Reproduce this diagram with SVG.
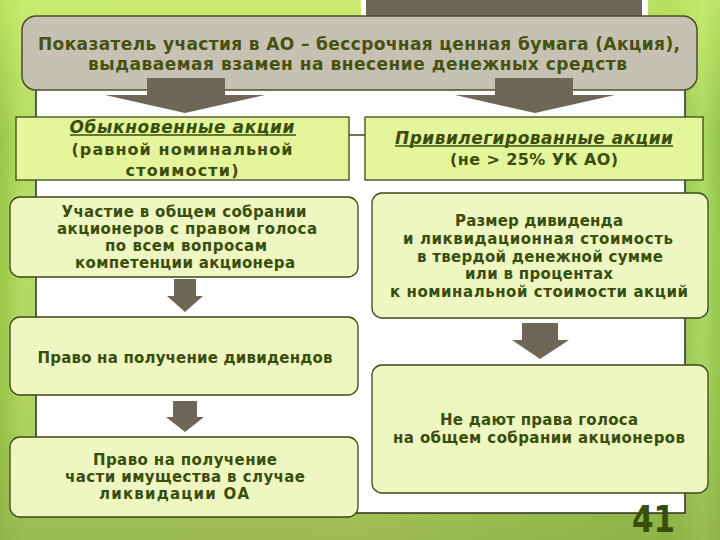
<svg xmlns="http://www.w3.org/2000/svg" width="720" height="540" viewBox="0 0 720 540">
<defs>
<linearGradient id="bgH" x1="0" y1="0" x2="1" y2="0">
<stop offset="0" stop-color="#96c748"/>
<stop offset="0.03" stop-color="#b4dc64"/>
<stop offset="0.5" stop-color="#bddc68"/>
<stop offset="0.935" stop-color="#8cc442"/>
<stop offset="0.975" stop-color="#acd966"/>
<stop offset="1" stop-color="#92c64a"/>
</linearGradient>
<linearGradient id="bgV" x1="0" y1="0" x2="0" y2="1">
<stop offset="0" stop-color="#d6f474" stop-opacity="0.6"/>
<stop offset="0.25" stop-color="#d6f474" stop-opacity="0"/>
<stop offset="0.8" stop-color="#8ea848" stop-opacity="0.2"/>
<stop offset="1" stop-color="#8ea848" stop-opacity="0.65"/>
</linearGradient>
<style>
.t{font-family:"DejaVu Sans","Liberation Sans",sans-serif;font-weight:bold;fill:#3a4e0c;text-anchor:middle}
.title{font-size:17px;fill:#46520f}
.b{font-size:15px}
.bb{font-size:16px}
.it{font-style:italic;font-size:17px}
.rect{fill:#e5f59b;stroke:#3c4a14;stroke-width:1.3}
.rbox{fill:#eef7c2;stroke:#3c4a14;stroke-width:1.3}
.arrow{fill:#6e6656}
.ul{stroke:#3a4e0c;stroke-width:1.5}
</style>
</defs>
<g id="background">
<rect x="0" y="0" width="720" height="540" fill="url(#bgH)"/>
<rect x="0" y="0" width="720" height="540" fill="url(#bgV)"/>
<rect x="361" y="-2" width="287" height="20" fill="#ffffff"/>
<rect x="366" y="-2" width="276" height="20" fill="#6e6658"/>
<rect x="36" y="88" width="649" height="425" fill="#ffffff" stroke="#2e2e22" stroke-width="1.5"/>
</g>
<g id="title">
<rect x="22" y="16" width="675" height="74" rx="14" fill="#c5c1b3" stroke="#4d4d26" stroke-width="1.5"/>
<text class="t title" x="359" y="50" textLength="642" lengthAdjust="spacing">Показатель участия в АО – бессрочная ценная бумага (Акция),</text>
<text class="t title" x="357.5" y="70" textLength="539" lengthAdjust="spacing">выдаваемая взамен на внесение денежных средств</text>
</g>
<g id="connectors">
<polygon class="arrow" points="147,78 225,78 225,95 265,95 185,113 105,95 147,95"/>
<polygon class="arrow" points="495,78 573,78 573,95 615,95 535,113 455,95 495,95"/>
<polygon class="arrow" points="174,279 196,279 196,296 203,296 185,312 167,296 174,296"/>
<polygon class="arrow" points="173,401 197,401 197,417 204,417 185,432 166,417 173,417"/>
<polygon class="arrow" points="522,323 558,323 558,340 569,340 540,359 512,340 522,340"/>
<line class="ul" x1="295" y1="135" x2="366" y2="135"/>
</g>
<g id="ordinary">
<rect class="rect" x="16" y="117" width="333" height="63"/>
<text class="t it" x="182" y="133" textLength="225" lengthAdjust="spacing">Обыкновенные акции</text>
<line class="ul" x1="70" y1="135" x2="296" y2="135"/>
<text class="t bb" x="182" y="155" textLength="221" lengthAdjust="spacing">(равной номинальной</text>
<text class="t bb" x="182" y="176" textLength="113" lengthAdjust="spacing">стоимости)</text>
</g>
<g id="preferred">
<rect class="rect" x="365" y="117" width="338" height="63"/>
<text class="t it" x="534" y="144" textLength="278" lengthAdjust="spacing">Привилегированные акции</text>
<line class="ul" x1="395" y1="146" x2="673" y2="146"/>
<text class="t bb" x="534" y="165" textLength="168" lengthAdjust="spacing">(не &gt; 25% УК АО)</text>
</g>
<g id="vote">
<rect class="rbox" x="10" y="197" width="348" height="80" rx="10"/>
<text class="t b" x="184" y="217" textLength="245" lengthAdjust="spacing">Участие в общем собрании</text>
<text class="t b" x="187" y="234" textLength="260" lengthAdjust="spacing">акционеров с правом голоса</text>
<text class="t b" x="186" y="251" textLength="162" lengthAdjust="spacing">по всем вопросам</text>
<text class="t b" x="185" y="268" textLength="220" lengthAdjust="spacing">компетенции акционера</text>
</g>
<g id="dividend-size">
<rect class="rbox" x="372" y="193" width="336" height="125" rx="10"/>
<text class="t b" x="539" y="226" textLength="168" lengthAdjust="spacing">Размер дивиденда</text>
<text class="t b" x="538" y="244" textLength="270" lengthAdjust="spacing">и ликвидационная стоимость</text>
<text class="t b" x="540" y="262" textLength="246" lengthAdjust="spacing">в твердой денежной сумме</text>
<text class="t b" x="539" y="279" textLength="148" lengthAdjust="spacing">или в процентах</text>
<text class="t b" x="539" y="297" textLength="298" lengthAdjust="spacing">к номинальной стоимости акций</text>
</g>
<g id="dividends">
<rect class="rbox" x="10" y="317" width="348" height="78" rx="10"/>
<text class="t b" x="185" y="363" textLength="295" lengthAdjust="spacing">Право на получение дивидендов</text>
</g>
<g id="no-vote">
<rect class="rbox" x="372" y="365" width="336" height="128" rx="10"/>
<text class="t b" x="539" y="425" textLength="198" lengthAdjust="spacing">Не дают права голоса</text>
<text class="t b" x="539" y="443" textLength="292" lengthAdjust="spacing">на общем собрании акционеров</text>
</g>
<g id="liquidation">
<rect class="rbox" x="10" y="437" width="348" height="80" rx="10"/>
<text class="t b" x="185" y="465" textLength="184" lengthAdjust="spacing">Право на получение</text>
<text class="t b" x="185" y="482" textLength="240" lengthAdjust="spacing">части имущества в случае</text>
<text class="t b" x="174" y="499" textLength="150" lengthAdjust="spacing">ликвидации ОА</text>
</g>
<g id="page-number">
<text class="t" x="653.5" y="532" font-size="38" fill="#4f6e10" textLength="43" lengthAdjust="spacingAndGlyphs">41</text>
</g>
</svg>
